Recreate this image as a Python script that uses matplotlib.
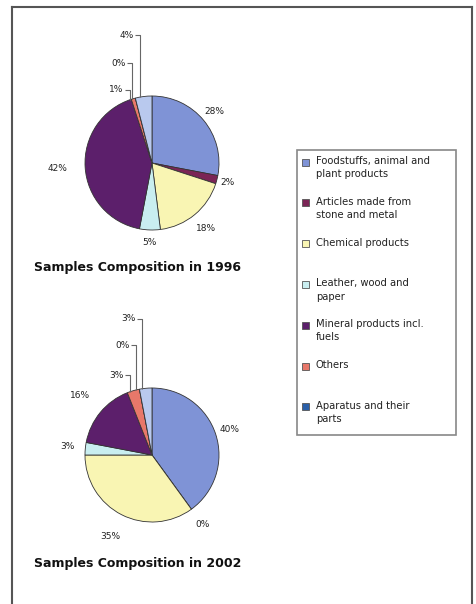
import matplotlib
matplotlib.use("Agg")
import matplotlib.pyplot as plt
from matplotlib.patches import Rectangle
import numpy as np

# ---------------- data ----------------
categories = [
    "Foodstuffs, animal and\nplant products",
    "Articles made from\nstone and metal",
    "Chemical products",
    "Leather, wood and\npaper",
    "Mineral products incl.\nfuels",
    "Others",
    "Aparatus and their\nparts",
    "Other",
]
values_1996 = [28, 2, 18, 5, 42, 1, 0, 4]
values_2002 = [40, 0, 35, 3, 16, 3, 0, 3]
labels_1996 = ["28%", "2%", "18%", "5%", "42%", "1%", "0%", "4%"]
labels_2002 = ["40%", "0%", "35%", "3%", "16%", "3%", "0%", "3%"]
titles = ["Samples Composition in 1996", "Samples Composition in 2002"]
legend_count = 7

colors = ["#7f93d6", "#7b2556", "#f9f5b3", "#c9eef0",
          "#5c1f6b", "#e8786a", "#2a5fa8", "#b9c9ee"]

# ---------------- layout (pixels) ----------------
W, H = 477, 604
pies = [
    dict(vals=values_1996, labs=labels_1996, title=titles[0], cx=152, cy=163, r=67,
         title_y=267, dist=[1.21, 1.17, 1.27, 1.18, 1.42], levels=[1.09, 1.49, 1.91]),
    dict(vals=values_2002, labs=labels_2002, title=titles[1], cx=152, cy=455, r=67,
         title_y=563, dist=[1.22, 1.29, 1.36, 1.27, 1.40], levels=[1.19, 1.64, 2.03]),
]

fig = plt.figure(figsize=(W / 100, H / 100), dpi=100)
ax = fig.add_axes([0, 0, 1, 1])

def Y(py):
    return H - py

for p in pies:
    cx, cy, r = p["cx"], p["cy"], p["r"]
    vals = p["vals"]
    ax.pie(vals, colors=colors, startangle=90, counterclock=False,
           center=(cx, Y(cy)), radius=r, frame=True,
           wedgeprops=dict(edgecolor="#333333", linewidth=0.6))
    total = float(sum(vals))
    cum = np.cumsum(vals)
    mids = np.radians((cum - np.array(vals) / 2.0) / total * 360.0)
    # outside labels for the large slices
    for i in range(5):
        d = p["dist"][i]
        x = cx + d * r * np.sin(mids[i])
        y = cy - d * r * np.cos(mids[i])
        ax.text(x, Y(y), p["labs"][i], ha="center", va="center",
                fontsize=6.5, color="#222222", family="DejaVu Sans")
    # leader-line labels for the small slices
    for k, i in enumerate(range(5, 8)):
        lx = np.sin(mids[i]) - 0.05
        ly = p["levels"][k]
        xline = cx + lx * r
        ytxt = cy - ly * r
        ycirc = cy - np.sqrt(max(0.0, 1 - lx ** 2)) * r
        xtxt_right = xline - 0.1 * r
        ax.plot([xtxt_right + 1.5, xline, xline], [Y(ytxt), Y(ytxt), Y(ycirc)],
                color="#666666", lw=0.8, solid_capstyle="butt")
        ax.text(xtxt_right, Y(ytxt), p["labs"][i], ha="right", va="center",
                fontsize=6.5, color="#222222", family="DejaVu Sans")
    ax.text(138, Y(p["title_y"]), p["title"], ha="center", va="center",
            fontsize=9, fontweight="bold", color="#111111", family="DejaVu Sans")

# ---------------- legend ----------------
lx0, ly0, lx1, ly1 = 297, 150, 456, 435
ax.add_patch(Rectangle((lx0, Y(ly1)), lx1 - lx0, ly1 - ly0, fill=False,
                       edgecolor="#888888", lw=1.2))
for i in range(legend_count):
    yline = 162 + i * 40.8
    ax.add_patch(Rectangle((302, Y(yline + 3.5)), 7, 7, facecolor=colors[i],
                           edgecolor="#555555", lw=0.6))
    ax.text(316, Y(yline - 6), categories[i], ha="left", va="top",
            fontsize=7.2, color="#222222", family="DejaVu Sans", linespacing=1.4)

# ---------------- outer frame ----------------
ax.plot([12, 12], [Y(7), Y(604)], color="#555555", lw=1.5)
ax.plot([12, 472], [Y(7), Y(7)], color="#555555", lw=1.5)
ax.plot([472, 472], [Y(7), Y(604)], color="#555555", lw=1.5)

ax.set_xlim(0, W)
ax.set_ylim(0, H)
ax.set_aspect("auto")
ax.axis("off")

fig.savefig("out.png", dpi=100, facecolor="white")
